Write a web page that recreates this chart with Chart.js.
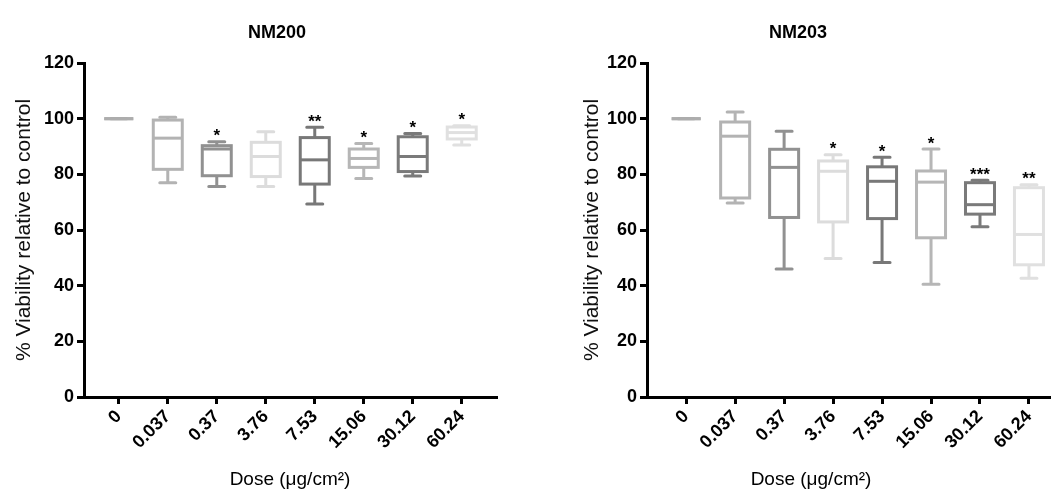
<!DOCTYPE html>
<html>
<head>
<meta charset="utf-8">
<script src="https://cdn.jsdelivr.net/npm/chart.js@4.4.0/dist/chart.umd.min.js"></script>
<style>
  html, body { margin: 0; padding: 0; background: #fff; overflow: hidden; }
  #wrap { position: relative; width: 1051px; height: 495px; }
  canvas { position: absolute; top: 0; }
  #nm200 { left: 0; }
  #nm203 { left: 525px; }
</style>
</head>
<body>
<div id="wrap">
  <canvas id="nm200" width="525" height="495"></canvas>
  <canvas id="nm203" width="526" height="495"></canvas>
</div>
<script>
// doses on the x axis
const doses = ['0', '0.037', '0.37', '3.76', '7.53', '15.06', '30.12', '60.24'];
const yTicks = [0, 20, 40, 60, 80, 100, 120];

// NM200 box stats (% viability)
const nm200Min = [100, 77.0, 75.6, 75.6, 69.3, 78.5, 79.4, 90.5];
const nm200Q1  = [100, 81.8, 79.5, 79.2, 76.5, 82.5, 81.0, 92.7];
const nm200Med = [100, 93.0, 89.1, 86.4, 85.2, 85.7, 86.4, 95.0];
const nm200Q3  = [100, 99.5, 90.3, 91.5, 93.2, 89.1, 93.5, 97.0];
const nm200Max = [100, 100.5, 91.7, 95.3, 96.9, 91.1, 94.7, 97.5];
const nm200Sig = ['', '', '*', '', '**', '*', '*', '*'];

// NM203 box stats
const nm203Min = [100, 69.7, 46.0, 49.8, 48.3, 40.5, 61.2, 42.7];
const nm203Q1  = [100, 71.5, 64.5, 62.9, 64.1, 57.2, 65.7, 47.5];
const nm203Med = [100, 93.7, 82.5, 81.1, 77.5, 77.2, 69.1, 58.4];
const nm203Q3  = [100, 98.8, 89.0, 84.8, 82.7, 81.2, 77.0, 75.2];
const nm203Max = [100, 102.4, 95.5, 87.0, 86.1, 89.1, 77.9, 76.3];
const nm203Sig = ['', '', '', '*', '*', '*', '***', '**'];

const boxColors = ['#adadad', '#b3b3b3', '#919191', '#dcdcdc', '#787878', '#b6b6b6', '#7a7a7a', '#e0e0e0'];
const FONT = "'Liberation Sans', Arial, sans-serif";

// box & whisker drawing, positioned through the chart's scales
const boxPlugin = {
  id: 'boxes',
  afterDatasetsDraw(chart, args, o) {
    const {ctx, scales: {x, y}} = chart;
    ctx.save();
    ctx.lineWidth = 3;
    o.med.forEach((m, i) => {
      const cx = x.getPixelForValue(i);
      const half = 14.5, cap = 8;
      const pMin = y.getPixelForValue(o.min[i]);
      const pQ1 = y.getPixelForValue(o.q1[i]);
      const pMed = y.getPixelForValue(m);
      const pQ3 = y.getPixelForValue(o.q3[i]);
      const pMax = y.getPixelForValue(o.max[i]);
      ctx.strokeStyle = boxColors[i];
      ctx.lineCap = 'butt';
      ctx.beginPath();
      ctx.moveTo(cx, pQ1); ctx.lineTo(cx, pMin);
      ctx.moveTo(cx, pQ3); ctx.lineTo(cx, pMax);
      ctx.stroke();
      ctx.lineCap = 'round';
      ctx.beginPath();
      ctx.moveTo(cx - cap, pMin); ctx.lineTo(cx + cap, pMin);
      ctx.moveTo(cx - cap, pMax); ctx.lineTo(cx + cap, pMax);
      ctx.stroke();
      ctx.lineCap = 'butt';
      ctx.fillStyle = '#fff';
      ctx.fillRect(cx - half, pQ3, half * 2, pQ1 - pQ3);
      ctx.strokeRect(cx - half, pQ3, half * 2, pQ1 - pQ3);
      ctx.beginPath();
      ctx.moveTo(cx - half, pMed); ctx.lineTo(cx + half, pMed);
      ctx.stroke();
      if (o.sig[i]) {
        ctx.fillStyle = '#000';
        ctx.font = 'bold 17px ' + FONT;
        ctx.textAlign = 'center';
        ctx.textBaseline = 'alphabetic';
        ctx.fillText(o.sig[i], cx, pMax - 0.5);
      }
    });
    ctx.restore();
  }
};

// heading and dose label
const textPlugin = {
  id: 'texts',
  afterDraw(chart, args, o) {
    const ctx = chart.ctx;
    ctx.save();
    ctx.fillStyle = '#000';
    ctx.textAlign = 'center';
    ctx.textBaseline = 'middle';
    ctx.font = 'bold 18px ' + FONT;
    ctx.fillText(o.heading, o.headX, 33);
    ctx.font = '19px ' + FONT;
    ctx.fillText('Dose (\u03bcg/cm\u00b2)', o.doseX, 480);
    ctx.restore();
  }
};

function makeChart(id, cfg) {
  new Chart(document.getElementById(id), {
    type: 'scatter',
    data: {datasets: []},
    plugins: [boxPlugin, textPlugin],
    options: {
      responsive: false,
      animation: false,
      layout: {padding: {top: 63, right: cfg.padRight, left: 0, bottom: 0}},
      plugins: {
        legend: {display: false},
        tooltip: {enabled: false},
        boxes: cfg.stats,
        texts: {heading: cfg.heading, headX: cfg.headX, doseX: cfg.doseX}
      },
      scales: {
        x: {
          type: 'linear',
          min: cfg.xMin,
          max: cfg.xMax,
          afterBuildTicks: s => { s.ticks = doses.map((d, i) => ({value: i})); },
          afterFit: s => { s.height = 98; },
          ticks: {
            callback: v => doses[v],
            color: '#000',
            font: {family: FONT, size: 18, weight: 'bold'},
            minRotation: 45,
            maxRotation: 45,
            padding: 2
          },
          grid: {drawOnChartArea: false, drawTicks: true, tickLength: 7, tickWidth: 3, tickColor: '#000'},
          border: {display: true, width: 3, color: '#000'}
        },
        y: {
          min: 0,
          max: 120,
          afterBuildTicks: s => { s.ticks = yTicks.map(v => ({value: v})); },
          afterFit: s => { s.width = cfg.yWidth; },
          ticks: {
            color: '#000',
            font: {family: FONT, size: 18, weight: 'bold'},
            padding: 3
          },
          grid: {drawOnChartArea: false, drawTicks: true, tickLength: 7, tickWidth: 3, tickColor: '#000'},
          border: {display: true, width: 3, color: '#000'},
          title: {
            display: true,
            text: '% Viability relative to control',
            color: '#111',
            font: {family: FONT, size: 21},
            padding: {top: cfg.titlePad, bottom: 0}
          }
        }
      }
    }
  });
}

makeChart('nm200', {
  heading: 'NM200', headX: 277, doseX: 290,
  yWidth: 84, padRight: 28, xMin: -0.71, xMax: 7.72, titlePad: 12,
  stats: {min: nm200Min, q1: nm200Q1, med: nm200Med, q3: nm200Q3, max: nm200Max, sig: nm200Sig}
});

makeChart('nm203', {
  heading: 'NM203', headX: 273, doseX: 286,
  yWidth: 122, padRight: 0, xMin: -0.8, xMax: 7.45, titlePad: 55,
  stats: {min: nm203Min, q1: nm203Q1, med: nm203Med, q3: nm203Q3, max: nm203Max, sig: nm203Sig}
});
</script>
</body>
</html>
